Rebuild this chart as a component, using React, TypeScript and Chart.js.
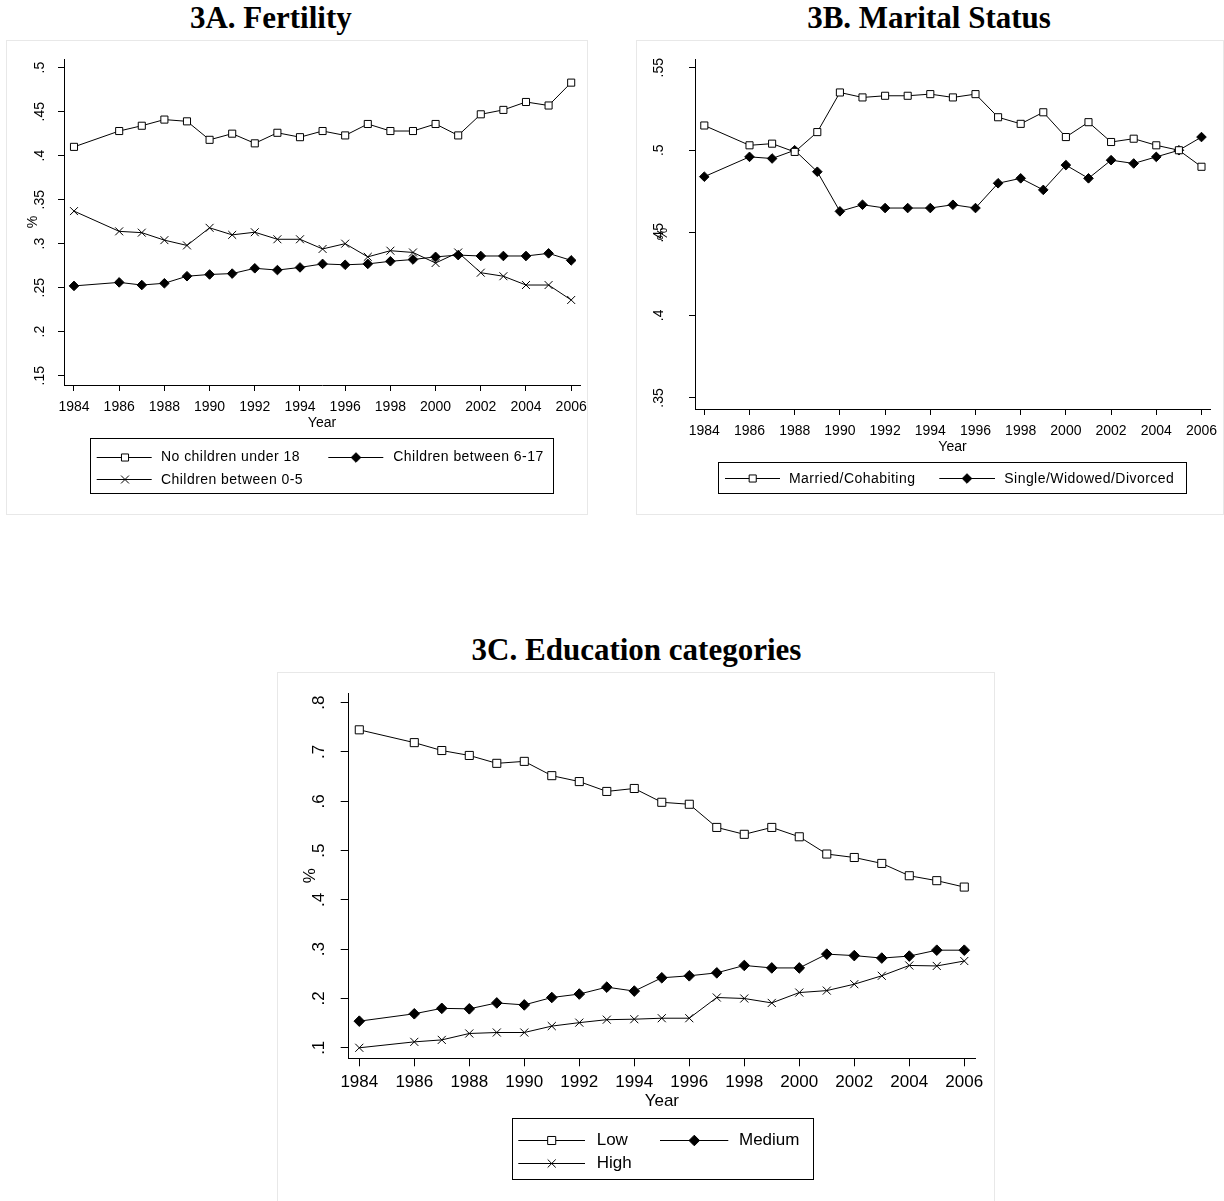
import React, { useEffect, useRef } from 'react';
import { Chart, registerables } from 'chart.js';

Chart.register(...registerables);

const SANS = '"Liberation Sans", Arial, sans-serif';
const SERIF = '"Liberation Serif", "Times New Roman", serif';

// ---------------- data ----------------
const years = [1984, 1986, 1987, 1988, 1989, 1990, 1991, 1992, 1993, 1994, 1995, 1996, 1997, 1998, 1999, 2000, 2001, 2002, 2003, 2004, 2005, 2006];
const xTickYears = [1984, 1986, 1988, 1990, 1992, 1994, 1996, 1998, 2000, 2002, 2004, 2006];

// 3A. Fertility
const noChildrenUnder18 = [0.410, 0.428, 0.434, 0.441, 0.439, 0.418, 0.425, 0.414, 0.426, 0.421, 0.428, 0.423, 0.436, 0.428, 0.428, 0.436, 0.423, 0.447, 0.452, 0.461, 0.457, 0.483];
const childrenBetween6to17 = [0.252, 0.256, 0.253, 0.255, 0.263, 0.265, 0.266, 0.272, 0.270, 0.273, 0.277, 0.276, 0.277, 0.280, 0.282, 0.285, 0.287, 0.286, 0.286, 0.286, 0.289, 0.281];
const childrenBetween0to5 = [0.337, 0.314, 0.3125, 0.304, 0.298, 0.318, 0.310, 0.313, 0.305, 0.305, 0.294, 0.300, 0.285, 0.292, 0.290, 0.278, 0.290, 0.267, 0.263, 0.253, 0.253, 0.236];
const yTicksA = [0.15, 0.2, 0.25, 0.3, 0.35, 0.4, 0.45, 0.5];

// 3B. Marital Status
const marriedCohabiting = [0.515, 0.503, 0.504, 0.499, 0.511, 0.535, 0.532, 0.533, 0.533, 0.534, 0.532, 0.534, 0.520, 0.516, 0.523, 0.508, 0.517, 0.505, 0.507, 0.503, 0.500, 0.490];
const singleWidowedDivorced = [0.484, 0.496, 0.495, 0.500, 0.487, 0.463, 0.467, 0.465, 0.465, 0.465, 0.467, 0.465, 0.480, 0.483, 0.476, 0.491, 0.483, 0.494, 0.492, 0.496, 0.500, 0.508];
const yTicksB = [0.35, 0.4, 0.45, 0.5, 0.55];

// 3C. Education categories
const eduLow = [0.745, 0.719, 0.703, 0.693, 0.677, 0.681, 0.652, 0.640, 0.620, 0.626, 0.598, 0.594, 0.547, 0.533, 0.547, 0.528, 0.493, 0.486, 0.474, 0.449, 0.439, 0.426];
const eduMedium = [0.154, 0.169, 0.180, 0.179, 0.191, 0.187, 0.202, 0.209, 0.223, 0.215, 0.242, 0.246, 0.252, 0.267, 0.262, 0.262, 0.290, 0.287, 0.282, 0.286, 0.298, 0.298];
const eduHigh = [0.100, 0.112, 0.116, 0.129, 0.131, 0.131, 0.144, 0.151, 0.157, 0.158, 0.160, 0.160, 0.202, 0.200, 0.191, 0.212, 0.216, 0.229, 0.246, 0.267, 0.266, 0.276];
const yTicksC = [0.1, 0.2, 0.3, 0.4, 0.5, 0.6, 0.7, 0.8];

// ---------------- helpers ----------------
type Kind = 'square' | 'diamond' | 'x';
interface Series { label: string; values: number[]; kind: Kind; row: number; col: number; }
interface Sizes { square: number; diamond: number; x: number; }

const fmtTick = (v: number) => String(+v.toFixed(2)).replace(/^0\./, '.');

function makeDataset(s: Series, sz: Sizes) {
  const base: any = {
    label: s.label,
    data: years.map((x, i) => ({ x, y: s.values[i] })),
    borderColor: '#000',
    borderWidth: 1,
    tension: 0,
    fill: false,
    pointBorderColor: '#000',
    pointBorderWidth: 1,
  };
  if (s.kind === 'square') {
    base.pointStyle = 'rect';
    base.pointRadius = sz.square;
    base.pointBackgroundColor = '#fff';
  } else if (s.kind === 'diamond') {
    base.pointStyle = 'rectRot';
    base.pointRadius = sz.diamond;
    base.pointBackgroundColor = '#000';
  } else {
    base.pointStyle = 'crossRot';
    base.pointRadius = sz.x;
    base.pointBackgroundColor = '#000';
  }
  return base;
}

function drawMarker(ctx: CanvasRenderingContext2D, kind: Kind, x: number, y: number, sz: Sizes) {
  ctx.save();
  ctx.strokeStyle = '#000';
  ctx.lineWidth = 1;
  ctx.beginPath();
  if (kind === 'square') {
    const h = Math.SQRT1_2 * sz.square;
    ctx.rect(x - h, y - h, 2 * h, 2 * h);
    ctx.fillStyle = '#fff';
    ctx.fill();
    ctx.stroke();
  } else if (kind === 'diamond') {
    const r = sz.diamond;
    ctx.moveTo(x - r, y);
    ctx.lineTo(x, y - r);
    ctx.lineTo(x + r, y);
    ctx.lineTo(x, y + r);
    ctx.closePath();
    ctx.fillStyle = '#000';
    ctx.fill();
    ctx.stroke();
  } else {
    const h = Math.SQRT1_2 * sz.x;
    ctx.moveTo(x - h, y - h);
    ctx.lineTo(x + h, y + h);
    ctx.moveTo(x + h, y - h);
    ctx.lineTo(x - h, y + h);
    ctx.stroke();
  }
  ctx.restore();
}

const stataLegend = {
  id: 'stataLegend',
  afterDraw(chart: any, _args: any, opts: any) {
    const { ctx } = chart;
    const o = opts.origin;
    ctx.save();
    ctx.strokeStyle = '#000';
    ctx.lineWidth = 1;
    const [bx1, by1, bx2, by2] = opts.box;
    ctx.strokeRect(Math.round(bx1 - o[0]) + 0.5, Math.round(by1 - o[1]) + 0.5, Math.round(bx2 - bx1), Math.round(by2 - by1));
    ctx.font = opts.font;
    ctx.fillStyle = '#000';
    ctx.textBaseline = 'middle';
    ctx.textAlign = 'left';
    if ('letterSpacing' in ctx) (ctx as any).letterSpacing = opts.letterSpacing || '0px';
    opts.series.forEach((s: Series) => {
      const col = opts.cols[s.col];
      const y = opts.rows[s.row] - o[1];
      ctx.beginPath();
      ctx.moveTo(col.line[0] - o[0], Math.round(y) + 0.5);
      ctx.lineTo(col.line[1] - o[0], Math.round(y) + 0.5);
      ctx.stroke();
      drawMarker(ctx, s.kind, col.marker - o[0], Math.round(y) + 0.5, opts.sizes);
      ctx.fillText(s.label, col.text - o[0], y + 0.5);
    });
    ctx.restore();
  },
};

interface PanelCfg {
  canvas: { left: number; top: number; width: number; height: number };
  area: { l: number; t: number; r: number; b: number };
  xRange: [number, number];
  yRange: [number, number];
  yTicks: number[];
  fontSize: number;
  tickLen: number;
  xTickPad: number;
  yTickPad: number;
  yAxisW: number;
  yTitlePad: number;
  xAxisH: number;
  sizes: Sizes;
  series: Series[];
  legend: { box: number[]; rows: number[]; cols: { line: number[]; marker: number; text: number }[]; fontSize: number; letterSpacing: string };
}

function Panel({ cfg }: { cfg: PanelCfg }) {
  const ref = useRef<HTMLCanvasElement>(null);
  useEffect(() => {
    if (!ref.current) return;
    const c = cfg.canvas;
    const pad = {
      left: cfg.area.l - c.left - cfg.yAxisW,
      top: cfg.area.t - c.top,
      right: c.left + c.width - cfg.area.r,
      bottom: c.top + c.height - cfg.area.b - cfg.xAxisH,
    };
    const font = { family: SANS, size: cfg.fontSize };
    const chart = new Chart(ref.current, {
      type: 'line',
      data: { datasets: cfg.series.map((s) => makeDataset(s, cfg.sizes)) },
      plugins: [stataLegend],
      options: {
        responsive: false,
        animation: false,
        devicePixelRatio: 1,
        layout: { padding: pad },
        events: [],
        plugins: {
          legend: { display: false },
          tooltip: { enabled: false },
          stataLegend: {
            origin: [c.left, c.top],
            series: cfg.series,
            sizes: cfg.sizes,
            box: cfg.legend.box,
            rows: cfg.legend.rows,
            cols: cfg.legend.cols,
            font: `${cfg.legend.fontSize}px ${SANS}`,
            letterSpacing: cfg.legend.letterSpacing,
          },
        } as any,
        scales: {
          x: {
            type: 'linear',
            min: cfg.xRange[0],
            max: cfg.xRange[1],
            afterBuildTicks: (s: any) => { s.ticks = xTickYears.map((v) => ({ value: v })); },
            afterFit: (s: any) => { s.height = cfg.xAxisH; },
            grid: { drawOnChartArea: false, drawTicks: true, tickLength: cfg.tickLen, color: '#000', lineWidth: 1 },
            border: { display: true, color: '#000', width: 1 },
            ticks: { font, color: '#000', padding: cfg.xTickPad, autoSkip: false, maxRotation: 0, minRotation: 0, callback: (v: any) => String(v) },
            title: { display: true, text: 'Year', font, color: '#000', padding: { top: 0, bottom: 0 } },
          },
          y: {
            type: 'linear',
            min: cfg.yRange[0],
            max: cfg.yRange[1],
            afterBuildTicks: (s: any) => { s.ticks = cfg.yTicks.map((v) => ({ value: v })); },
            afterFit: (s: any) => { s.width = cfg.yAxisW; },
            grid: { drawOnChartArea: false, drawTicks: true, tickLength: cfg.tickLen, color: '#000', lineWidth: 1 },
            border: { display: true, color: '#000', width: 1 },
            ticks: { font, color: '#000', padding: cfg.yTickPad, autoSkip: false, minRotation: 90, maxRotation: 90, crossAlign: 'center', callback: (v: any) => fmtTick(Number(v)) },
            title: { display: true, text: '%', font, color: '#000', padding: { top: cfg.yTitlePad, bottom: 0 } },
          },
        } as any,
      },
    });
    return () => chart.destroy();
  }, [cfg]);
  const c = cfg.canvas;
  return (
    <canvas
      ref={ref}
      width={c.width}
      height={c.height}
      style={{ position: 'absolute', left: c.left, top: c.top, width: c.width, height: c.height }}
    />
  );
}

const sizesAB: Sizes = { square: 5, diamond: 4.8, x: 5.6 };
const sizesC: Sizes = { square: 5.7, diamond: 5.3, x: 5.7 };

const panelA: PanelCfg = {
  canvas: { left: 0, top: 0, width: 615, height: 530 },
  area: { l: 64, t: 59.3, r: 580, b: 385 },
  xRange: [1983.558, 2006.39],
  yRange: [0.1394, 0.5095],
  yTicks: yTicksA,
  fontSize: 14,
  tickLen: 6,
  xTickPad: 7.3,
  yTickPad: 8.3,
  yAxisW: 60,
  yTitlePad: 20.6,
  xAxisH: 46.7,
  sizes: sizesAB,
  series: [
    { label: 'No children under 18', values: noChildrenUnder18, kind: 'square', row: 0, col: 0 },
    { label: 'Children between 6-17', values: childrenBetween6to17, kind: 'diamond', row: 0, col: 1 },
    { label: 'Children between 0-5', values: childrenBetween0to5, kind: 'x', row: 1, col: 0 },
  ],
  legend: {
    box: [90, 437.7, 553.3, 492.3],
    rows: [456.7, 479.3],
    cols: [
      { line: [96.7, 151.7], marker: 125, text: 161 },
      { line: [328.3, 383.3], marker: 356, text: 393.3 },
    ],
    fontSize: 14,
    letterSpacing: '0.45px',
  },
};

const panelB: PanelCfg = {
  canvas: { left: 615, top: 0, width: 640, height: 530 },
  area: { l: 695, t: 59.3, r: 1210, b: 409 },
  xRange: [1983.588, 2006.377],
  yRange: [0.34329, 0.55509],
  yTicks: yTicksB,
  fontSize: 14,
  tickLen: 6,
  xTickPad: 7.3,
  yTickPad: 20,
  yAxisW: 70,
  yTitlePad: 29.6,
  xAxisH: 46.1,
  sizes: sizesAB,
  series: [
    { label: 'Married/Cohabiting', values: marriedCohabiting, kind: 'square', row: 0, col: 0 },
    { label: 'Single/Widowed/Divorced', values: singleWidowedDivorced, kind: 'diamond', row: 0, col: 1 },
  ],
  legend: {
    box: [718.3, 461.7, 1186.7, 492.3],
    rows: [478.3],
    cols: [
      { line: [725, 780], marker: 752.7, text: 789 },
      { line: [939.3, 995], marker: 967, text: 1004.3 },
    ],
    fontSize: 14,
    letterSpacing: '0.45px',
  },
};

const panelC: PanelCfg = {
  canvas: { left: 250, top: 620, width: 780, height: 600 },
  area: { l: 348.7, t: 693.3, r: 975, b: 1058.3 },
  xRange: [1983.615, 2006.39],
  yRange: [0.07867, 0.81907],
  yTicks: yTicksC,
  fontSize: 17,
  tickLen: 8,
  xTickPad: 6,
  yTickPad: 14.3,
  yAxisW: 70,
  yTitlePad: 21.1,
  xAxisH: 53.6,
  sizes: sizesC,
  series: [
    { label: 'Low', values: eduLow, kind: 'square', row: 0, col: 0 },
    { label: 'Medium', values: eduMedium, kind: 'diamond', row: 0, col: 1 },
    { label: 'High', values: eduHigh, kind: 'x', row: 1, col: 0 },
  ],
  legend: {
    box: [511.7, 1118.3, 812.3, 1179],
    rows: [1140, 1163.3],
    cols: [
      { line: [518.3, 585], marker: 551.7, text: 596.7 },
      { line: [660, 728.3], marker: 694.3, text: 739 },
    ],
    fontSize: 17,
    letterSpacing: '0px',
  },
};

const boxStyle = (l: number, t: number, r: number, b: number): React.CSSProperties => ({
  position: 'absolute', left: l, top: t, width: r - l, height: b - t, border: '1px solid #e8e8e8', boxSizing: 'border-box',
});

const titleStyle = (cx: number, top: number): React.CSSProperties => ({
  position: 'absolute', left: cx - 250, top, width: 500, textAlign: 'center',
  fontFamily: SERIF, fontWeight: 'bold', fontSize: 31, lineHeight: '31px', color: '#000', whiteSpace: 'nowrap',
});

export default function App() {
  return (
    <div style={{ position: 'absolute', left: 0, top: 0, width: 1224, height: 1201, overflow: 'hidden', background: '#fff' }}>
      <div style={boxStyle(6, 40, 588, 515)} />
      <div style={boxStyle(636, 40, 1224, 515)} />
      <div style={boxStyle(277, 672, 995, 1215)} />
      <div style={titleStyle(270.8, 1.5)}>3A. Fertility</div>
      <div style={titleStyle(929, 1.5)}>3B. Marital Status</div>
      <div style={titleStyle(636.5, 634)}>3C. Education categories</div>
      <Panel cfg={panelA} />
      <Panel cfg={panelB} />
      <Panel cfg={panelC} />
    </div>
  );
}
